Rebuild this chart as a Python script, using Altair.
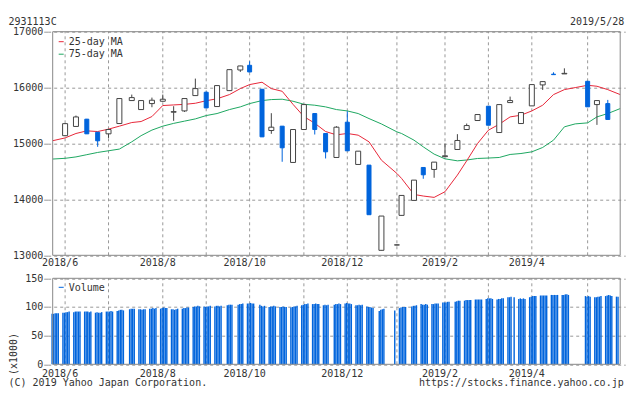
import datetime as dt
import pandas as pd
import altair as alt

FONT = "DejaVu Sans Mono"
TEXT = "#333333"
GRID = "#999999"
BORDER = "#888888"
UP = "#444444"
BLUE = "#0064dc"
RED = "#e8283a"
GREEN = "#1fa862"

ORIGIN = dt.date(2018, 5, 27)
END = dt.date(2019, 5, 28)
X_MAX = (END - ORIGIN).days


def to_day(s):
    return (dt.date.fromisoformat(s) - ORIGIN).days


# ---- weekly candles (first trading day of each week) ----
candle_dates = [
    "2018-06-04", "2018-06-11", "2018-06-18", "2018-06-25", "2018-07-02", "2018-07-09",
    "2018-07-17", "2018-07-23", "2018-07-30", "2018-08-06", "2018-08-13", "2018-08-20",
    "2018-08-27", "2018-09-03", "2018-09-10", "2018-09-18", "2018-09-25", "2018-10-01",
    "2018-10-09", "2018-10-15", "2018-10-22", "2018-10-29", "2018-11-05", "2018-11-12",
    "2018-11-19", "2018-11-26", "2018-12-03", "2018-12-10", "2018-12-17", "2018-12-25",
    "2019-01-04", "2019-01-07", "2019-01-15", "2019-01-21", "2019-01-28", "2019-02-04",
    "2019-02-12", "2019-02-18", "2019-02-25", "2019-03-04", "2019-03-11", "2019-03-18",
    "2019-03-25", "2019-04-01", "2019-04-08", "2019-04-15", "2019-04-22", "2019-05-07",
    "2019-05-13", "2019-05-20",
]
opens = [15140, 15305, 15435, 15202, 15173, 15357, 15768, 15607, 15714, 15756,
         15560, 15583, 15857, 15917, 15661, 15946, 16315, 16399, 15970, 15232,
         15310, 14661, 15250, 15536, 15179, 14750, 15381, 14625, 14613, 13089,
         13185, 13714, 13982, 14571, 14536, 14765, 14893, 15250, 15411, 15667,
         15196, 15732, 15357, 15673, 16048, 16240, 16245, 16113, 15696, 15714]
highs = [15365, 15500, 15440, 15205, 15255, 15810, 15875, 15770, 15821, 15875,
         15667, 15805, 16161, 15930, 16040, 16325, 16390, 16470, 15975, 15542,
         15312, 15252, 15698, 15540, 15180, 15310, 15577, 14865, 14615, 13702,
         13190, 14071, 14346, 14572, 14667, 15000, 15167, 15357, 15520, 15668,
         15697, 15839, 15556, 16055, 16108, 16274, 16345, 16115, 15770, 15780]
lows = [15130, 15300, 15170, 14941, 15100, 15350, 15765, 15605, 15649, 15750,
        15405, 15565, 15855, 15635, 15660, 15945, 16280, 16275, 15115, 15173,
        14673, 14660, 15248, 15161, 14732, 14748, 14868, 14623, 13725, 13088,
        13180, 13712, 13980, 14369, 14387, 14760, 14891, 15248, 15409, 15326,
        15195, 15730, 15355, 15672, 15958, 16232, 16245, 15655, 15333, 15429]
closes = [15355, 15475, 15173, 15048, 15250, 15804, 15821, 15768, 15774, 15792,
          15570, 15804, 15982, 15637, 16036, 16321, 16387, 16280, 15119, 15292,
          14923, 15250, 15696, 15250, 14851, 15292, 14869, 14863, 13726, 13702,
          13186, 14071, 14345, 14440, 14667, 14780, 15054, 15321, 15518, 15327,
          15696, 15768, 15554, 16054, 16107, 16232, 16255, 15656, 15768, 15430]

# ---- moving averages ----
ma_dates = ["2018-05-27"] + candle_dates[:47] + ["2019-04-29"] + candle_dates[47:] + ["2019-05-28"]
ma25 = [15050, 15100, 15179, 15226, 15214, 15257, 15310, 15375, 15393, 15482,
        15679, 15690, 15700, 15720, 15765, 15800, 15875, 15982, 16054, 16096,
        15982, 15934, 15700, 15482, 15363, 15214, 15155, 15179, 15149, 15030,
        14702, 14464, 14375, 14089, 14060, 14036, 14137, 14435, 14690, 15000,
        15238, 15345, 15476, 15506, 15583, 15685, 15875, 15964, 16000, 16042,
        16024, 15964, 15875]
ma75 = [14722, 14735, 14760, 14800, 14840, 14870, 14900, 15030, 15140, 15240,
        15310, 15360, 15400, 15440, 15500, 15536, 15607, 15655, 15714, 15768,
        15786, 15792, 15756, 15702, 15685, 15655, 15607, 15583, 15536, 15446,
        15350, 15208, 15179, 15060, 14940, 14810, 14726, 14690, 14705, 14732,
        14740, 14750, 14804, 14821, 14851, 14929, 15060, 15298, 15351, 15369,
        15476, 15536, 15625]

# ---- daily volume (x1000), one list per week starting 2018-05-28 ----
holidays = ["2018-07-16", "2018-09-17", "2018-09-24", "2018-10-08", "2018-11-23",
            "2018-12-24", "2018-12-31", "2019-01-01", "2019-01-02", "2019-01-03",
            "2019-01-14", "2019-02-11", "2019-03-21", "2019-04-29", "2019-04-30",
            "2019-05-01", "2019-05-02", "2019-05-03", "2019-05-06"]
volume_by_week = [
    [88, 88, 89, 89, 89], [90, 90, 91, 91, 92], [91, 92, 92, 92, 92], [92, 92, 92, 91, 92],
    [90, 91, 90, 90, 91], [92, 92, 92, 93, 92], [93, 94, 95, 95, 94], [96, 97, 97, 97],
    [96, 96, 95, 96, 96], [97, 97, 98, 97, 98], [97, 98, 99, 98, 98], [96, 96, 95, 96, 97],
    [97, 98, 98, 99, 99], [100, 101, 101, 102, 101], [101, 100, 101, 101, 102],
    [101, 102, 102, 101, 102], [103, 104, 104, 104], [104, 105, 105, 106],
    [106, 106, 107, 106, 106], [104, 102, 101, 102], [100, 101, 101, 102, 101],
    [100, 100, 101, 100, 100], [99, 100, 101, 101, 102], [103, 104, 105, 105, 106],
    [105, 105, 106, 105, 105], [103, 104, 103, 104], [104, 105, 105, 106, 105],
    [106, 107, 106, 106, 105], [103, 103, 104, 103, 104], [101, 100, 100, 99, 98],
    [93, 95, 96, 97], [94], [98, 99, 100, 100, 100], [101, 102, 102, 103],
    [105, 104, 104, 105, 104], [105, 105, 106, 106, 106], [108, 108, 108, 109, 109],
    [109, 110, 111, 111], [111, 112, 112, 112, 112], [113, 113, 113, 113, 113],
    [114, 115, 115, 115, 114], [113, 114, 114, 115, 115], [117, 117, 118, 117],
    [114, 115, 114, 115, 114], [117, 118, 119, 119, 119], [120, 120, 120, 120, 120],
    [121, 121, 121, 121, 121], [121, 121, 122, 122, 121], [], [119, 118, 119, 118],
    [117, 117, 118, 118, 119], [119, 120, 121, 120, 119], [118, 118],
]

# ---- month grid lines and labels ----
grid_dates = ["2018-06-04", "2018-07-02", "2018-08-06", "2018-09-03", "2018-10-01",
              "2018-11-05", "2018-12-03", "2019-01-04", "2019-02-04", "2019-03-04",
              "2019-04-01", "2019-05-07"]
grid_labels = ["2018/6", "", "2018/8", "", "2018/10", "", "2018/12", "",
               "2019/2", "", "2019/4", ""]
price_ticks = [13000, 14000, 15000, 16000, 17000]
volume_ticks = [0, 50, 100, 150]
PRICE_MIN, PRICE_MAX = 13000, 17000
VOL_MIN, VOL_MAX = 0, 150

# ---- tables ----
candles = pd.DataFrame({"d": [to_day(s) for s in candle_dates], "o": opens,
                        "h": highs, "l": lows, "c": closes})
up = candles[candles.c >= candles.o]
down = candles[candles.c < candles.o]
ma = pd.DataFrame({"d": [to_day(s) for s in ma_dates], "ma25": ma25, "ma75": ma75})

VOL_SHIFT = 1.4
hol = set(holidays)
rows = []
monday = dt.date(2018, 5, 28)
for vals in volume_by_week:
    days = [monday + dt.timedelta(days=i) for i in range(5)]
    days = [d for d in days if d.isoformat() not in hol and d <= END]
    for d, v in zip(days, vals):
        rows.append({"d": (d - ORIGIN).days - VOL_SHIFT, "v": v})
    monday += dt.timedelta(days=7)
vol = pd.DataFrame(rows)

grid = pd.DataFrame({"d": [to_day(s) for s in grid_dates], "lab": grid_labels,
                     "plo": PRICE_MIN, "phi": PRICE_MAX, "vlo": VOL_MIN, "vhi": VOL_MAX})
labelled = grid[grid.lab != ""]
frames = pd.DataFrame({"x0": [0], "x1": [X_MAX], "plo": [PRICE_MIN], "phi": [PRICE_MAX],
                       "vlo": [VOL_MIN], "vhi": [VOL_MAX]})

# ---- layout (pixels, relative to the price plot's top-left corner) ----
W = 577.5
P_BOTTOM = 223.6
V_TOP, V_BOTTOM = 246.6, 332.6
PAD_L, PAD_T = 39.7, 23.7
SVG_W, SVG_H = 618, 380

xs = alt.Scale(domain=[0, X_MAX], nice=False, zero=False)
ps = alt.Scale(domain=[PRICE_MIN, PRICE_MAX], range=[P_BOTTOM, 0], nice=False, zero=False)
vs = alt.Scale(domain=[VOL_MIN, VOL_MAX], range=[V_BOTTOM, V_TOP], nice=False, zero=False)

X = alt.X("d:Q", scale=xs, axis=None)


def y_axis(vals):
    return alt.Axis(values=vals, format="d", title=None, grid=True, gridColor=GRID,
                    gridDash=[3, 3], domain=False, tickSize=4, tickColor=GRID,
                    labelPadding=1, labelFlush=False, labelOverlap=False, orient="left",
                    labelFontSize=10, labelColor=TEXT, labelFont=FONT)


def YP(f, axis=None):
    return alt.Y(f"{f}:Q", scale=ps, axis=axis)


def YV(f, axis=None):
    return alt.Y(f"{f}:Q", scale=vs, axis=axis)


def label(text, x, y, align="left", baseline="middle", angle=0):
    kw = dict(align=align, baseline=baseline, fontSize=10, color=TEXT, font=FONT)
    if angle:
        kw["angle"] = angle
    return alt.Chart(pd.DataFrame({"t": [text]})).mark_text(**kw).encode(
        text="t:N", x=alt.value(x), y=alt.value(y))


def key_line(color, y):
    return alt.Chart(pd.DataFrame({"k": [0]})).mark_rule(color=color, strokeWidth=1).encode(
        x=alt.value(11), x2=alt.value(16), y=alt.value(y))


# grids and frames
pgrid_v = alt.Chart(grid).mark_rule(color=GRID, strokeWidth=1, strokeDash=[3, 3]).encode(
    x=X, y=YP("plo", axis=y_axis(price_ticks)), y2="phi:Q")
vgrid_v = alt.Chart(grid).mark_rule(color=GRID, strokeWidth=1, strokeDash=[3, 3]).encode(
    x=X, y=YV("vlo", axis=y_axis(volume_ticks)), y2="vhi:Q")
pframe = alt.Chart(frames).mark_rect(fillOpacity=0, stroke=BORDER, strokeWidth=1).encode(
    x=alt.X("x0:Q", scale=xs, axis=None), x2="x1:Q", y=YP("plo"), y2="phi:Q")
vframe = alt.Chart(frames).mark_rect(fillOpacity=0, stroke=BORDER, strokeWidth=1).encode(
    x=alt.X("x0:Q", scale=xs, axis=None), x2="x1:Q", y=YV("vlo"), y2="vhi:Q")

# price panel
line25 = alt.Chart(ma).mark_line(color=RED, strokeWidth=1).encode(x=X, y=YP("ma25"))
line75 = alt.Chart(ma).mark_line(color=GREEN, strokeWidth=1).encode(x=X, y=YP("ma75"))
wick_up = alt.Chart(up).mark_rule(color=UP, strokeWidth=1).encode(x=X, y=YP("l"), y2="h:Q")
wick_dn = alt.Chart(down).mark_rule(color=BLUE, strokeWidth=1).encode(x=X, y=YP("l"), y2="h:Q")
body_up = alt.Chart(up).mark_bar(size=5, fill="white", stroke=UP, strokeWidth=1).encode(
    x=X, y=YP("o"), y2="c:Q")
body_dn = alt.Chart(down).mark_bar(size=4, fill=BLUE, stroke=BLUE, strokeWidth=1).encode(
    x=X, y=YP("o"), y2="c:Q")

# volume panel
vbars = alt.Chart(vol).mark_bar(size=1.4, color=BLUE).encode(
    x=X, y=YV("v"), y2=alt.datum(0))

# month labels under each panel
plabels = alt.Chart(labelled).mark_text(align="center", baseline="alphabetic", dx=-5,
                                        fontSize=10, color=TEXT, font=FONT).encode(
    x=X, text="lab:N", y=alt.value(234.3))
vlabels = alt.Chart(labelled).mark_text(align="center", baseline="alphabetic", dx=-5,
                                        fontSize=10, color=TEXT, font=FONT).encode(
    x=X, text="lab:N", y=alt.value(V_BOTTOM + 12.2))

chart = alt.layer(
    pgrid_v, vgrid_v,
    line75, line25, wick_up, wick_dn, body_up, body_dn,
    vbars,
    pframe, vframe,
    plabels, vlabels,
    key_line(RED, 10), label("25-day MA", 21, 10),
    key_line(GREEN, 22.5), label("75-day MA", 21, 22.5),
    key_line(BLUE, V_TOP + 9), label("Volume", 21, V_TOP + 9.7),
    label("2931113C", -39.2, -6.7, baseline="alphabetic"),
    label("2019/5/28", W - 1, -6.7, align="right", baseline="alphabetic"),
    label("(x1000)", -34.2, V_BOTTOM - 10.3, align="center", baseline="middle", angle=270),
    label("(C) 2019 Yahoo Japan Corporation.", -39.2, V_BOTTOM + 21.7, baseline="alphabetic"),
    label("https://stocks.finance.yahoo.co.jp", W - 1.5, V_BOTTOM + 21.7, align="right",
          baseline="alphabetic"),
).resolve_scale(y="independent").properties(
    width=W, height=V_BOTTOM,
    autosize=alt.AutoSizeParams(type="none", contains="content"),
    padding={"left": PAD_L, "top": PAD_T, "right": SVG_W - PAD_L - W,
             "bottom": SVG_H - PAD_T - V_BOTTOM},
).configure(font=FONT).configure_view(stroke=None)

chart.save("out.html", embed_options={"renderer": "svg", "actions": False})
